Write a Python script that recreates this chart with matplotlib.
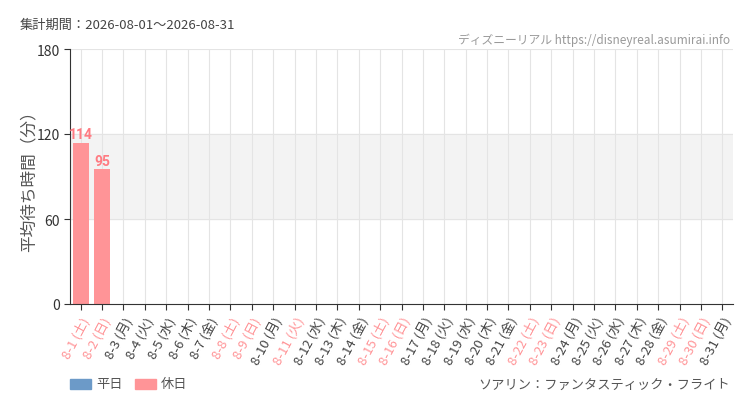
import numpy as np
import matplotlib.pyplot as plt
from matplotlib.patches import Rectangle

plt.rcParams['font.family'] = ['Noto Sans CJK JP', 'DejaVu Sans']

# data
days = [f"8-{d}" for d in range(1, 32)]
weekdays = ["土", "日", "月", "火", "水", "木", "金"] * 5
weekdays = weekdays[:31]
holidays = [1, 2, 8, 9, 11, 15, 16, 22, 23, 29, 30]
wait_times = [114, 95] + [np.nan] * 29

WEEKDAY_COLOR = '#6c9ac8'
HOLIDAY_COLOR = '#ff9497'
TEXT_COLOR = '#444444'

fig = plt.figure(figsize=(7.5, 4.1), dpi=100)
ax = fig.add_axes([70 / 750, 1 - 305 / 410, 663 / 750, 255 / 410])

x = np.arange(len(days))
is_hol = [(i + 1) in holidays for i in x]
colors = [HOLIDAY_COLOR if h else WEEKDAY_COLOR for h in is_hol]
vals = np.array(wait_times, dtype=float)

ax.axhspan(60, 120, color='#f3f3f3', zorder=0)
for xi in x:
    ax.axvline(xi, color='#e4e4e4', lw=0.8, zorder=0.5)
for yv in [60, 120, 180]:
    ax.axhline(yv, color='#e4e4e4', lw=0.8, zorder=0.5)

ax.bar(x, np.nan_to_num(vals), width=0.76, color=colors, zorder=2)
for xi, v, c in zip(x, vals, colors):
    if not np.isnan(v):
        ax.text(xi, v + 1, f"{int(v)}", ha='center', va='bottom', color='#ff7b82',
                fontsize=10, fontweight='bold', fontfamily='Roboto')

ax.set_xlim(-0.5, len(days) - 0.5)
ax.set_ylim(0, 180)
ax.set_yticks([0, 60, 120, 180])
ax.tick_params(axis='y', labelsize=10, colors='#333333', length=4)
ax.tick_params(axis='x', length=4, colors='#333333')
ax.set_xticks(x)
labels = [f"{d} ({w})" for d, w in zip(days, weekdays)]
ax.set_xticklabels(labels, rotation=62, ha='right', rotation_mode='anchor', fontsize=9.5)
for lbl, h in zip(ax.get_xticklabels(), is_hol):
    lbl.set_color(HOLIDAY_COLOR if h else TEXT_COLOR)

for s in ['top', 'right']:
    ax.spines[s].set_visible(False)
ax.spines['left'].set_color('#333333')
ax.spines['bottom'].set_color('#333333')
ax.set_ylabel('平均待ち時間（分）', fontsize=12, color='#555555')
ax.yaxis.set_label_coords(-32 / 663, 0.5)

fig.text(20 / 750, 1 - 25 / 410, '集計期間：2026-08-01〜2026-08-31', fontsize=9.5,
         color=TEXT_COLOR, va='center')
fig.text(730 / 750, 1 - 40 / 410, 'ディズニーリアル https://disneyreal.asumirai.info',
         fontsize=8.5, color='#999999', ha='right', va='center')
fig.text(730 / 750, 1 - 385 / 410, 'ソアリン：ファンタスティック・フライト', fontsize=9.5,
         color='#555555', ha='right', va='center')

# legend
fig.patches.append(Rectangle((70 / 750, 1 - 390 / 410), 21 / 750, 10 / 410,
                             transform=fig.transFigure, color=WEEKDAY_COLOR))
fig.text(96 / 750, 1 - 385 / 410, '平日', fontsize=9.5, color='#555555', va='center')
fig.patches.append(Rectangle((135 / 750, 1 - 390 / 410), 21 / 750, 10 / 410,
                             transform=fig.transFigure, color=HOLIDAY_COLOR))
fig.text(161 / 750, 1 - 385 / 410, '休日', fontsize=9.5, color='#555555', va='center')

fig.savefig('out.png', dpi=100)
